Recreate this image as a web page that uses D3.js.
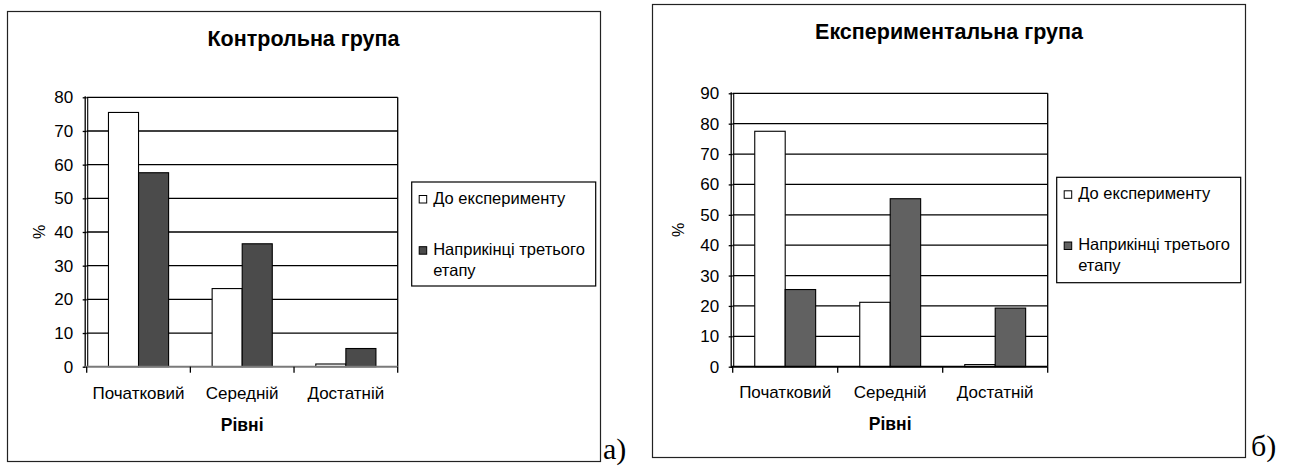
<!DOCTYPE html>
<html>
<head>
<meta charset="utf-8">
<script src="https://cdn.jsdelivr.net/npm/d3@7"></script>
<style>
  html, body { margin: 0; padding: 0; background: #fff; }
  svg { display: block; font-family: 'Liberation Sans', Arial, sans-serif; }
</style>
</head>
<body>
<svg id="chart" width="1293" height="473"></svg>
<script>
// Levels on the x axis
const categories = ['Початковий', 'Середній', 'Достатній'];
const seriesNames = ['До експерименту', 'Наприкінці третього етапу'];

// Control group (%)
const controlBefore = [75.5, 23.2, 0.8];
const controlAfter = [57.6, 36.5, 5.4];

// Experimental group (%)
const expBefore = [77.5, 21.2, 0.7];
const expAfter = [25.4, 55.3, 19.3];

const controlTicks = [0, 10, 20, 30, 40, 50, 60, 70, 80];
const expTicks = [0, 10, 20, 30, 40, 50, 60, 70, 80, 90];

const svg = d3.select('#chart');
svg.append('rect').attr('width', 1293).attr('height', 473).attr('fill', '#fff');

/**
 * Draw one framed bar chart
 */
function drawChart(cfg, before, after, ticks) {
  const g = svg.append('g');

  // outer frame
  g.append('rect')
    .attr('x', cfg.frame[0]).attr('y', cfg.frame[1])
    .attr('width', cfg.frame[2]).attr('height', cfg.frame[3])
    .attr('fill', 'none').attr('stroke', '#222').attr('stroke-width', 1.2);

  // panel letter
  g.append('text')
    .attr('x', cfg.letter[0]).attr('y', cfg.letter[1])
    .style('font-family', "'Liberation Serif', 'Times New Roman', serif")
    .style('font-size', '30px')
    .text(cfg.letterText);

  // title
  g.append('text')
    .attr('x', cfg.titleX).attr('y', cfg.titleY)
    .attr('text-anchor', 'middle')
    .style('font-size', '21.5px').style('font-weight', 'bold')
    .text(cfg.title);

  const [left, top, right, bottom] = cfg.plot;
  const x0 = d3.scaleBand().domain(categories).range([left, right]);
  const x1 = d3.scaleBand().domain(seriesNames)
    .range([x0.bandwidth() * 0.21, x0.bandwidth() * 0.79]);
  const y = d3.scaleLinear().domain([0, d3.max(ticks)]).range([bottom, top]);

  // gridlines (top one acts as the plot border)
  g.append('g').selectAll('line')
    .data(ticks.filter(t => t > 0))
    .enter().append('line')
    .attr('x1', left).attr('x2', right)
    .attr('y1', d => y(d)).attr('y2', d => y(d))
    .attr('stroke', '#000').attr('stroke-width', 1.3);

  // right border of plot area
  g.append('line')
    .attr('x1', right).attr('x2', right).attr('y1', top).attr('y2', bottom)
    .attr('stroke', '#000').attr('stroke-width', 1.3);

  // bars
  const rows = categories.map((c, i) => ({ cat: c, vals: [before[i], after[i]] }));
  const groups = g.append('g').selectAll('g')
    .data(rows).enter().append('g')
    .attr('transform', d => `translate(${x0(d.cat)},0)`);

  groups.selectAll('rect')
    .data(d => d.vals.map((v, j) => ({ key: seriesNames[j], v: v, j: j })))
    .enter().append('rect')
    .attr('x', d => x1(d.key))
    .attr('width', x1.bandwidth())
    .attr('y', d => y(d.v))
    .attr('height', d => y(0) - y(d.v))
    .attr('fill', d => d.j === 0 ? '#fff' : cfg.dark)
    .attr('stroke', '#000').attr('stroke-width', 1.1);

  // y axis
  const yAxis = g.append('g')
    .attr('transform', `translate(${left},0)`)
    .call(d3.axisLeft(y).tickValues(ticks).tickSize(4).tickPadding(9.5));
  yAxis.select('.domain').remove();
  yAxis.selectAll('.tick line').attr('stroke', '#000').attr('stroke-width', 1.3);
  yAxis.selectAll('.tick text')
    .attr('fill', '#000')
    .style('font-size', '17px')
    .style('font-family', "'Liberation Sans', Arial, sans-serif");
  g.append('line')
    .attr('x1', left - 1.5).attr('x2', left - 1.5).attr('y1', top - 1).attr('y2', bottom + 1)
    .attr('stroke', '#000').attr('stroke-width', 1.3);
  g.append('line')
    .attr('x1', left + 1).attr('x2', left + 1).attr('y1', top).attr('y2', bottom)
    .attr('stroke', '#000').attr('stroke-width', 1.1);

  // x axis
  g.append('line')
    .attr('x1', left - 1.5).attr('x2', right).attr('y1', bottom).attr('y2', bottom)
    .attr('stroke', cfg.baseColor).attr('stroke-width', 2);
  const bounds = categories.map(c => x0(c)).concat([right]);
  g.append('g').selectAll('line')
    .data(bounds).enter().append('line')
    .attr('x1', d => d).attr('x2', d => d)
    .attr('y1', bottom).attr('y2', bottom + 6)
    .attr('stroke', '#000').attr('stroke-width', 1.3);

  g.append('g').selectAll('text')
    .data(categories).enter().append('text')
    .attr('x', d => x0(d) + x0.bandwidth() / 2)
    .attr('y', cfg.catY)
    .attr('text-anchor', 'middle')
    .style('font-size', '17px')
    .text(d => d);

  // axis titles
  g.append('text')
    .attr('x', (left + right) / 2).attr('y', cfg.catY + 32)
    .attr('text-anchor', 'middle')
    .style('font-size', '17.5px').style('font-weight', 'bold')
    .text('Рівні');

  g.append('text')
    .attr('transform', `translate(${cfg.pctX},${(top + bottom) / 2}) rotate(-90)`)
    .attr('text-anchor', 'middle')
    .style('font-size', '16px')
    .text('%');

  // legend
  const [lx, ly, lw, lh] = cfg.legend;
  const leg = g.append('g').attr('transform', `translate(${lx},${ly})`);
  leg.append('rect')
    .attr('width', lw).attr('height', lh)
    .attr('fill', '#fff').attr('stroke', '#000').attr('stroke-width', 1.2);
  const legRows = [
    { fill: '#fff', lines: ['До експерименту'], y: 21.5 },
    { fill: cfg.dark, lines: ['Наприкінці третього', 'етапу'], y: 72.7 }
  ];
  legRows.forEach(r => {
    leg.append('rect')
      .attr('x', 7.5).attr('y', r.y - 8).attr('width', 7.5).attr('height', 7.5)
      .attr('fill', r.fill).attr('stroke', '#000').attr('stroke-width', 1);
    r.lines.forEach((t, k) => {
      leg.append('text')
        .attr('x', 21.5).attr('y', r.y + k * 21)
        .style('font-size', '16.5px')
        .text(t);
    });
  });
}

drawChart({
  frame: [7.5, 11.5, 593, 450],
  letter: [603, 459], letterText: 'а)',
  title: 'Контрольна група', titleX: 303.5, titleY: 46,
  plot: [86.7, 97.3, 397.7, 366.7],
  dark: '#4b4b4b', baseColor: '#7a7a7a',
  catY: 399, pctX: 45,
  legend: [411.7, 182, 184, 104]
}, controlBefore, controlAfter, controlTicks);

drawChart({
  frame: [652.5, 4.5, 593, 453],
  letter: [1251, 456], letterText: 'б)',
  title: 'Експериментальна група', titleX: 949, titleY: 39,
  plot: [732.7, 93.3, 1047.7, 366.7],
  dark: '#616161', baseColor: '#000',
  catY: 398, pctX: 684,
  legend: [1056.7, 177.3, 184, 105.4]
}, expBefore, expAfter, expTicks);
</script>
</body>
</html>
